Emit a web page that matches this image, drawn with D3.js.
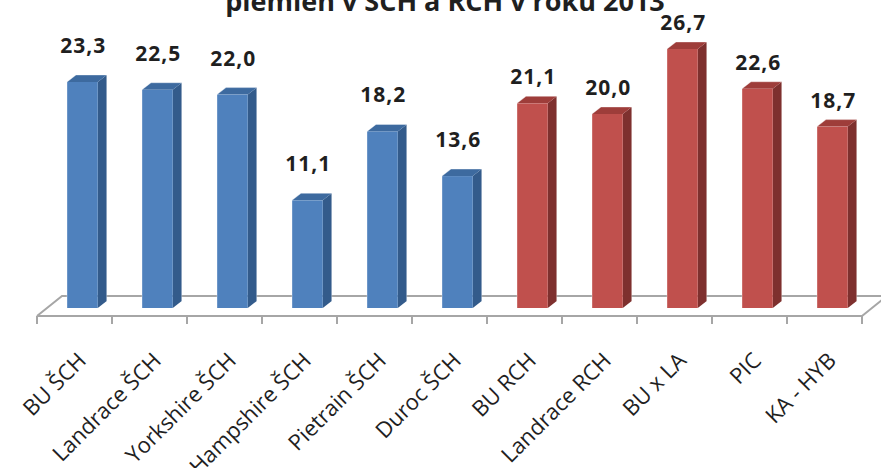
<!DOCTYPE html>
<html>
<head>
<meta charset="utf-8">
<script src="https://cdn.jsdelivr.net/npm/d3@7"></script>
<style>
  html, body { margin: 0; padding: 0; background: #fff; }
  svg { display: block; }
  .title { font-family: "Open Sans", sans-serif; font-weight: bold; font-size: 27px; fill: #1f1f1f; }
  .value { font-family: "Open Sans", sans-serif; font-weight: bold; font-size: 21px; fill: #1f1f1f; letter-spacing: 1px; }
  .cat { font-family: "Open Sans", sans-serif; font-size: 22px; fill: #1f1f1f; }
</style>
</head>
<body>
<svg width="881" height="468"></svg>
<script>
// data
const categories = ["BU ŠCH", "Landrace ŠCH", "Yorkshire ŠCH", "Hampshire ŠCH", "Pietrain ŠCH", "Duroc ŠCH",
  "BU RCH", "Landrace RCH", "BU x LA", "PIC", "KA - HYB"];
const values = [23.3, 22.5, 22.0, 11.1, 18.2, 13.6, 21.1, 20.0, 26.7, 22.6, 18.7];
const groups = ["ŠCH", "ŠCH", "ŠCH", "ŠCH", "ŠCH", "ŠCH", "RCH", "RCH", "RCH", "RCH", "RCH"];
const titleText = "plemien v ŠCH a RCH v roku 2013";

const data = categories.map((c, i) => ({ cat: c, value: values[i], group: groups[i] }));

const svg = d3.select("svg");

// colours per group: front, side, top
const colors = {
  "ŠCH": { front: "#4f81bd", side: "#335b8b", top: "#3d6a9f", labelGap: 29 },
  "RCH": { front: "#c0504d", side: "#7e302e", top: "#9e3d3a", labelGap: 19 }
};

// floor / depth settings
const floorFront = 316, floorBack = 296;
const floorDx = 25;
const depthX = 9, depthY = 7;

let x = d3.scaleBand().domain(categories).range([37, 862]).paddingInner(0);
let y = d3.scaleLinear().domain([0, 30]).range([308, 17]);

let bw = x.bandwidth();
let faceW = bw * 0.41;
let faceOff = bw * 0.4;

// floor
let floor = svg.append("g").attr("class", "floor");
let left = x.range()[0], right = x.range()[1];
floor.append("path")
  .attr("d", "M" + left + "," + floorFront + "L" + (left + floorDx) + "," + floorBack +
    "L" + (right + floorDx) + "," + floorBack)
  .attr("fill", "none").attr("stroke", "#a6a6a6").attr("stroke-width", 2);

// bars
let bars = svg.append("g").selectAll(".bar")
  .data(data)
  .enter().append("g")
  .attr("class", "bar");

bars.each(function (d) {
  let g = d3.select(this);
  let c = colors[d.group];
  let x0 = x(d.cat) + faceOff, x1 = x0 + faceW;
  let top = y(d.value), bot = y(0);
  // side face
  g.append("polygon")
    .attr("points", [[x1, bot], [x1 + depthX, bot - depthY], [x1 + depthX, top - depthY], [x1, top]].join(" "))
    .attr("fill", c.side);
  // top face
  g.append("polygon")
    .attr("points", [[x0, top], [x0 + depthX, top - depthY], [x1 + depthX, top - depthY], [x1, top]].join(" "))
    .attr("fill", c.top);
  // front face
  g.append("rect")
    .attr("x", x0).attr("y", top)
    .attr("width", faceW).attr("height", bot - top)
    .attr("fill", c.front);
  // light edges
  g.append("path")
    .attr("d", "M" + x0 + "," + bot + "V" + top + "L" + (x0 + depthX) + "," + (top - depthY) +
      "H" + (x1 + depthX) + "V" + (bot - depthY))
    .attr("fill", "none").attr("stroke", "rgba(255,255,255,0.35)").attr("stroke-width", 1);
});

// value labels
let fmt = d3.format(".1f");
svg.append("g").selectAll("text")
  .data(data)
  .enter().append("text")
  .attr("class", "value")
  .attr("text-anchor", "middle")
  .attr("x", d => x(d.cat) + faceOff + faceW / 2 + 1)
  .attr("y", d => y(d.value) - colors[d.group].labelGap)
  .text(d => fmt(d.value).replace(".", ","));

// front edge of floor with ticks
floor.append("path")
  .attr("d", "M" + right + "," + floorFront + "L" + (right + floorDx) + "," + floorBack)
  .attr("fill", "none").attr("stroke", "#a6a6a6").attr("stroke-width", 2);

let axis = svg.append("g")
  .attr("transform", "translate(0," + floorFront + ")")
  .call(d3.axisBottom(x).tickSize(0).tickFormat(""));
axis.select(".domain").remove();
axis.append("line")
  .attr("x1", left).attr("x2", right)
  .attr("stroke", "#a6a6a6").attr("stroke-width", 2);
axis.selectAll(".edge")
  .data(categories.concat(["__end"]))
  .enter().append("line")
  .attr("class", "edge")
  .attr("x1", (d, i) => i < categories.length ? x(d) : right)
  .attr("x2", (d, i) => i < categories.length ? x(d) : right)
  .attr("y1", 0).attr("y2", 8)
  .attr("stroke", "#a6a6a6").attr("stroke-width", 2);

// category labels
svg.append("g").selectAll("text")
  .data(categories)
  .enter().append("text")
  .attr("class", "cat")
  .attr("text-anchor", "end")
  .attr("transform", d => "translate(" + (x(d) + bw / 2 + 13) + ",362) rotate(-45)")
  .text(d => d);

// title (upper line is outside the picture)
svg.append("text")
  .attr("class", "title")
  .attr("text-anchor", "middle")
  .attr("x", 445).attr("y", 11)
  .text(titleText);
</script>
</body>
</html>
